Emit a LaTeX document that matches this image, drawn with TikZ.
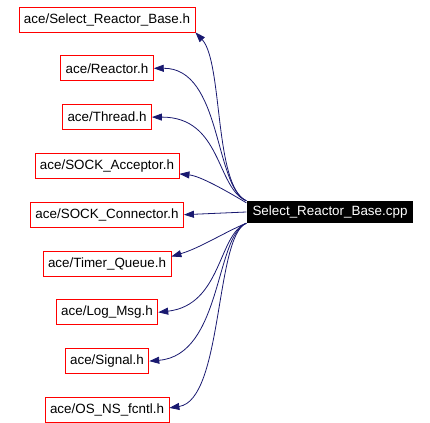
\documentclass[tikz,border=0pt]{standalone}
\usepackage{fontspec}
\setmainfont{Liberation Sans}
\usetikzlibrary{arrows.meta,positioning}
\definecolor{edgeblue}{RGB}{25,25,112}

\begin{document}
\begin{tikzpicture}[x=1pt, y=-1pt, node distance=23pt,
  every node/.style={font=\fontsize{13.4}{15}\selectfont}]
\tikzstyle{hdr} = [rectangle, draw=red, fill=white, line width=0.8pt,
  minimum height=25pt, inner xsep=5pt, text centered]
\tikzstyle{src} = [rectangle, fill=black, text=white, minimum height=22pt,
  inner xsep=6pt]
\tikzstyle{dep} = [draw=edgeblue, line width=0.8pt,
  -{Triangle[length=10pt,width=7pt,fill=edgeblue]}]
\useasboundingbox (0,0) rectangle (430,422);

\node[src] (cpp) at (330,212) {Select\_Reactor\_Base.cpp};

\node[hdr] (selbase) at (107,19.5) {ace/Select\_Reactor\_Base.h};
\node[hdr, below=of selbase] (reactor) {ace/Reactor.h};
\node[hdr, below=of reactor] (thread) {ace/Thread.h};
\node[hdr, below=of thread] (acceptor) {ace/SOCK\_Acceptor.h};
\node[hdr, below=of acceptor] (connector) {ace/SOCK\_Connector.h};
\node[hdr, below=of connector] (timerq) {ace/Timer\_Queue.h};
\node[hdr, below=of timerq] (logmsg) {ace/Log\_Msg.h};
\node[hdr, below=of logmsg] (signal) {ace/Signal.h};
\node[hdr, below=of signal] (fcntl) {ace/OS\_NS\_fcntl.h};

% upper includes
\draw[dep] (cpp.north west) .. controls (214,186) and (223,62)
  .. (selbase.south east);
\draw[dep] (cpp.north west) .. controls (214,186) and (222,68)
  .. (reactor.east);
\draw[dep] (cpp.north west) .. controls (216,188) and (222,117)
  .. (thread.east);
\draw[dep] ([yshift=-2pt]cpp.north west) .. controls (225,190) and (200,176)
  .. ([yshift=-8pt]acceptor.east);
\draw[dep] (cpp.west) -- (connector.east);

% lower includes
\draw[dep] (cpp.south west) .. controls (225,232) and (200,248)
  .. ([yshift=7pt]timerq.east);
\draw[dep] (cpp.south west) .. controls (218,234) and (222,305)
  .. (logmsg.east);
\draw[dep] (cpp.south west) .. controls (215,236) and (222,355)
  .. (signal.east);
\draw[dep] (cpp.south west) .. controls (215,236) and (223,400)
  .. ([yshift=2pt]fcntl.east);
\end{tikzpicture}
\end{document}
